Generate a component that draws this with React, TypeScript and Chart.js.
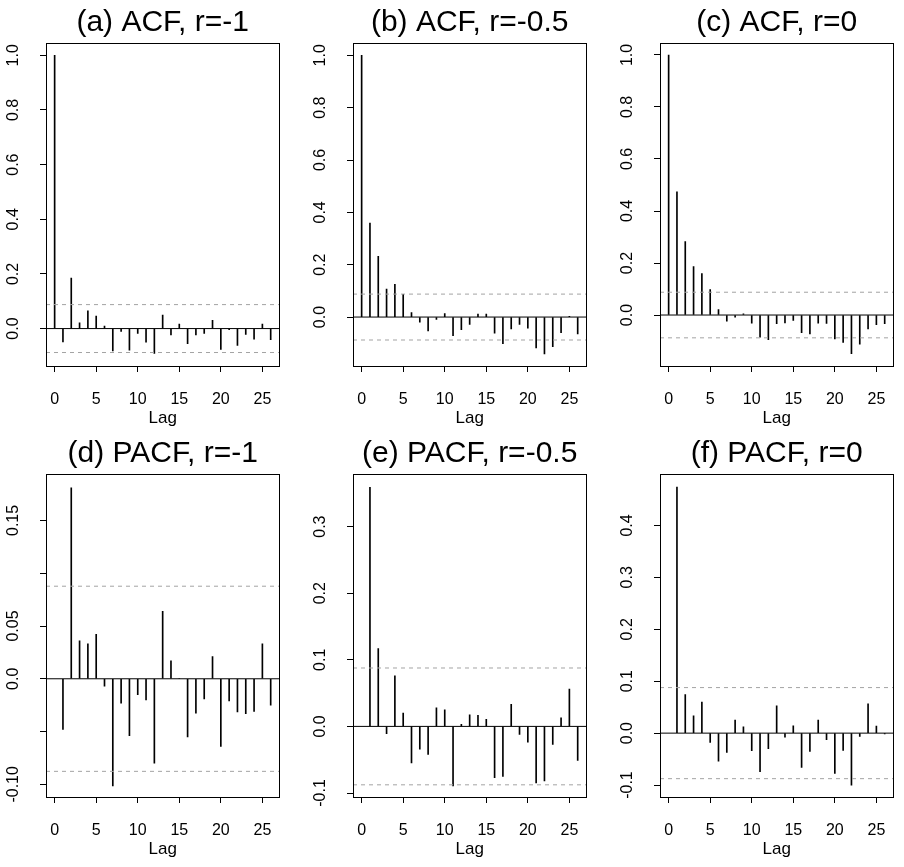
import React, { useEffect, useRef } from "react";
import { Chart, registerables } from "chart.js";

Chart.register(...registerables);

// ---------------- data ----------------
const ACF_LAGS = [0, 1, 2, 3, 4, 5, 6, 7, 8, 9, 10, 11, 12, 13, 14, 15, 16, 17, 18, 19, 20, 21, 22, 23, 24, 25, 26];
const PACF_LAGS = [1, 2, 3, 4, 5, 6, 7, 8, 9, 10, 11, 12, 13, 14, 15, 16, 17, 18, 19, 20, 21, 22, 23, 24, 25, 26];

const ACF_R_M1 = [1.0, -0.049, 0.185, 0.021, 0.065, 0.046, 0.009, -0.082, -0.010, -0.079, -0.018, -0.050, -0.091, 0.049, -0.023, 0.016, -0.055, -0.023, -0.018, 0.030, -0.076, -0.004, -0.062, -0.021, -0.039, 0.016, -0.041];
const ACF_R_M05 = [1.0, 0.359, 0.232, 0.107, 0.125, 0.087, 0.017, -0.020, -0.053, -0.009, 0.013, -0.071, -0.048, -0.028, 0.011, 0.011, -0.062, -0.102, -0.045, -0.028, -0.042, -0.118, -0.141, -0.113, -0.060, 0.003, -0.064];
const ACF_R_0 = [1.0, 0.474, 0.282, 0.186, 0.159, 0.098, 0.021, -0.024, -0.008, 0.005, -0.031, -0.085, -0.095, -0.033, -0.030, -0.021, -0.068, -0.073, -0.031, -0.032, -0.092, -0.105, -0.149, -0.112, -0.053, -0.037, -0.033];

const PACF_R_M1 = [-0.048, 0.181, 0.036, 0.033, 0.042, -0.007, -0.1015, -0.023, -0.054, -0.015, -0.020, -0.080, 0.064, 0.017, 0.0005, -0.055, -0.0325, -0.019, 0.021, -0.064, -0.021, -0.0315, -0.033, -0.031, 0.033, -0.025];
const PACF_R_M05 = [0.359, 0.117, -0.011, 0.076, 0.020, -0.055, -0.034, -0.042, 0.028, 0.025, -0.0895, 0.003, 0.0175, 0.0165, 0.0105, -0.077, -0.075, 0.033, -0.012, -0.0235, -0.085, -0.082, -0.027, 0.013, 0.056, -0.051];
const PACF_R_0 = [0.474, 0.0744, 0.0333, 0.0596, -0.018, -0.054, -0.037, 0.025, 0.012, -0.034, -0.074, -0.030, 0.0526, -0.0077, 0.014, -0.066, -0.035, 0.025, -0.0128, -0.0776, -0.0333, -0.100, -0.0064, 0.0564, 0.0135, -0.0013];

const CONF_LIMIT = 0.0877;

const TITLES = ["(a) ACF, r=-1", "(b) ACF, r=-0.5", "(c) ACF, r=0", "(d) PACF, r=-1", "(e) PACF, r=-0.5", "(f) PACF, r=0"];
const X_LABEL = "Lag";

const X_TICKS = [0, 5, 10, 15, 20, 25];
const X_TICK_LABELS = ["0", "5", "10", "15", "20", "25"];
const X_RANGE = [-1.04, 27.04];

const ACF_Y_TICKS = [0, 0.2, 0.4, 0.6, 0.8, 1.0];
const ACF_Y_TICK_LABELS = ["0.0", "0.2", "0.4", "0.6", "0.8", "1.0"];
const PACF_M1_Y_TICKS = [-0.1, -0.05, 0, 0.05, 0.1, 0.15];
const PACF_M1_Y_TICK_LABELS = ["-0.10", "", "0.0", "0.05", "", "0.15"];
const PACF_M05_Y_TICKS = [-0.1, 0, 0.1, 0.2, 0.3];
const PACF_M05_Y_TICK_LABELS = ["-0.1", "0.0", "0.1", "0.2", "0.3"];
const PACF_0_Y_TICKS = [-0.1, 0, 0.1, 0.2, 0.3, 0.4];
const PACF_0_Y_TICK_LABELS = ["-0.1", "0.0", "0.1", "0.2", "0.3", "0.4"];

const Y_RANGE_A = [-0.137, 1.045];
const Y_RANGE_B = [-0.187, 1.047];
const Y_RANGE_C = [-0.196, 1.046];
const Y_RANGE_D = [-0.112, 0.194];
const Y_RANGE_E = [-0.106, 0.379];
const Y_RANGE_F = [-0.123, 0.499];

// ---------------- layout / style ----------------
const FONT = "'Liberation Sans', Arial, Helvetica, sans-serif";
const PAD_TOP = 43;
const Y_AXIS_W = 46;
const PLOT_W = 240;
const PLOT_H = 323;
const PAD_RIGHT = 3;
const COL_LEFT = [0, 307, 614];
const ROW_TOP = [0, 431];
const ROW_H = [430, 436];

type Panel = {
  title: string;
  lags: number[];
  values: number[];
  yTicks: number[];
  yLabels: string[];
  yRange: number[];
};

const PANELS: Panel[] = [
  { title: TITLES[0], lags: ACF_LAGS, values: ACF_R_M1, yTicks: ACF_Y_TICKS, yLabels: ACF_Y_TICK_LABELS, yRange: Y_RANGE_A },
  { title: TITLES[1], lags: ACF_LAGS, values: ACF_R_M05, yTicks: ACF_Y_TICKS, yLabels: ACF_Y_TICK_LABELS, yRange: Y_RANGE_B },
  { title: TITLES[2], lags: ACF_LAGS, values: ACF_R_0, yTicks: ACF_Y_TICKS, yLabels: ACF_Y_TICK_LABELS, yRange: Y_RANGE_C },
  { title: TITLES[3], lags: PACF_LAGS, values: PACF_R_M1, yTicks: PACF_M1_Y_TICKS, yLabels: PACF_M1_Y_TICK_LABELS, yRange: Y_RANGE_D },
  { title: TITLES[4], lags: PACF_LAGS, values: PACF_R_M05, yTicks: PACF_M05_Y_TICKS, yLabels: PACF_M05_Y_TICK_LABELS, yRange: Y_RANGE_E },
  { title: TITLES[5], lags: PACF_LAGS, values: PACF_R_0, yTicks: PACF_0_Y_TICKS, yLabels: PACF_0_Y_TICK_LABELS, yRange: Y_RANGE_F },
];

function PanelChart({ panel, row, col }: { panel: Panel; row: number; col: number }) {
  const ref = useRef<HTMLCanvasElement | null>(null);
  const cw = Y_AXIS_W + PLOT_W + PAD_RIGHT;
  const ch = ROW_H[row];
  const xAxisH = ch - PAD_TOP - PLOT_H;
  const lagMiddle = 418;
  const lagPadBottom = Math.max(0, ch - 10.2 - lagMiddle);

  useEffect(() => {
    if (!ref.current) return;
    const decor = {
      id: "decor" + row + col,
      afterDraw(chart: any) {
        const { ctx, chartArea } = chart;
        const ys = chart.scales.y;
        ctx.save();
        // frame box
        ctx.strokeStyle = "#000";
        ctx.lineWidth = 1;
        ctx.strokeRect(
          Math.round(chartArea.left) + 0.5,
          Math.round(chartArea.top) + 0.5,
          Math.round(chartArea.right) - Math.round(chartArea.left),
          Math.round(chartArea.bottom) - Math.round(chartArea.top)
        );
        // title
        ctx.fillStyle = "#000";
        ctx.font = `30px ${FONT}`;
        ctx.textAlign = "center";
        ctx.textBaseline = "alphabetic";
        ctx.fillText(panel.title, (chartArea.left + chartArea.right) / 2, chartArea.top - 12);
        // rotated y tick labels
        ctx.font = `16px ${FONT}`;
        ctx.textBaseline = "middle";
        panel.yTicks.forEach((v, i) => {
          const label = panel.yLabels[i];
          if (!label) return;
          const py = ys.getPixelForValue(v);
          ctx.save();
          ctx.translate(chartArea.left - 32.4, py);
          ctx.rotate(-Math.PI / 2);
          ctx.textAlign = "center";
          ctx.fillText(label, 0, 0);
          ctx.restore();
        });
        ctx.restore();
      },
    };

    const refLine = (y: number, color: string, dash: number[]) => ({
      type: "line" as const,
      data: [
        { x: X_RANGE[0], y },
        { x: X_RANGE[1], y },
      ],
      borderColor: color,
      borderWidth: 1,
      borderDash: dash,
      pointRadius: 0,
      fill: false,
      order: 0,
    });

    const chart = new Chart(ref.current, {
      type: "bar",
      data: {
        datasets: [
          {
            type: "bar",
            data: panel.lags.map((l, i) => ({ x: l, y: panel.values[i] })),
            backgroundColor: "#000",
            borderWidth: 0,
            barThickness: 1,
            order: 1,
          } as any,
          refLine(CONF_LIMIT, "#a3a3a3", [4, 4]),
          refLine(-CONF_LIMIT, "#a3a3a3", [4, 4]),
          refLine(0, "#000", []),
        ],
      },
      options: {
        animation: false,
        responsive: false,
        devicePixelRatio: 1,
        layout: { padding: { top: PAD_TOP, left: 0, right: PAD_RIGHT, bottom: 0 } },
        plugins: {
          legend: { display: false },
          tooltip: { enabled: false },
          title: { display: false },
        },
        scales: {
          x: {
            type: "linear",
            min: X_RANGE[0],
            max: X_RANGE[1],
            offset: false,
            afterBuildTicks: (s: any) => {
              s.ticks = X_TICKS.map((v) => ({ value: v }));
            },
            afterFit: (s: any) => {
              s.height = xAxisH;
            },
            ticks: {
              callback: (_v: any, i: number) => X_TICK_LABELS[i],
              font: { family: FONT, size: 16 },
              color: "#000",
              padding: 17.5,
              autoSkip: false,
              maxRotation: 0,
              minRotation: 0,
            },
            grid: { display: true, drawOnChartArea: false, drawTicks: true, tickLength: 6, color: "#000", lineWidth: 1, offset: false },
            border: { display: true, color: "#000", width: 1 },
            title: {
              display: true,
              text: X_LABEL,
              font: { family: FONT, size: 17 },
              color: "#000",
              padding: { top: 0, bottom: lagPadBottom },
            },
          },
          y: {
            type: "linear",
            min: panel.yRange[0],
            max: panel.yRange[1],
            afterBuildTicks: (s: any) => {
              s.ticks = panel.yTicks.map((v) => ({ value: v }));
            },
            afterFit: (s: any) => {
              s.width = Y_AXIS_W;
            },
            ticks: { display: false },
            grid: { display: true, drawOnChartArea: false, drawTicks: true, tickLength: 6, color: "#000", lineWidth: 1 },
            border: { display: true, color: "#000", width: 1 },
          },
        },
      } as any,
      plugins: [decor],
    });
    return () => chart.destroy();
  }, []);

  return (
    <canvas
      ref={ref}
      width={cw}
      height={ch}
      style={{ position: "absolute", left: COL_LEFT[col], top: ROW_TOP[row], width: cw, height: ch }}
    />
  );
}

export default function App() {
  return (
    <div style={{ position: "absolute", left: 0, top: 0, width: 904, height: 867, background: "#fff" }}>
      {PANELS.map((p, i) => (
        <PanelChart key={i} panel={p} row={Math.floor(i / 3)} col={i % 3} />
      ))}
    </div>
  );
}
